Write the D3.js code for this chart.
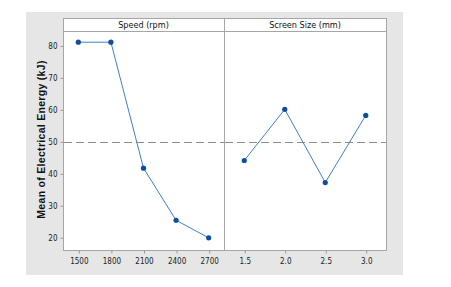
<!DOCTYPE html>
<html><head><meta charset="utf-8">
<script src="https://cdn.jsdelivr.net/npm/d3@7"></script>
<style>body{margin:0;background:#fff}svg{display:block}</style>
</head><body>
<script>
const speedLevels = [1500, 1800, 2100, 2400, 2700];
const speedMeans = [81.0, 81.0, 41.6, 25.3, 19.8];
const screenLevels = [1.5, 2.0, 2.5, 3.0];
const screenMeans = [44.0, 60.0, 37.1, 58.1];
const panelTitles = ["Speed (rpm)", "Screen Size (mm)"];
const yTicks = [20, 30, 40, 50, 60, 70, 80];
const speedTickLabels = ["1500", "1800", "2100", "2400", "2700"];
const screenTickLabels = ["1.5", "2.0", "2.5", "3.0"];
const grandMean = 49.8;
const yTitle = "Mean of Electrical Energy (kJ)";

(function () {
const W = 451, H = 287;
const svg = d3.select("body").append("svg").attr("width", W).attr("height", H);

svg.append("rect").attr("x", 26).attr("y", 12).attr("width", 377).attr("height", 263).attr("fill", "#e6e6e6");

const pTop = 18, stripBot = 31, bot = 250;
const panels = [
  {x0: 63, x1: 224, levels: speedLevels, means: speedMeans, labels: speedTickLabels, title: panelTitles[0]},
  {x0: 224, x1: 386, levels: screenLevels, means: screenMeans, labels: screenTickLabels, title: panelTitles[1]}
];

const y = d3.scaleLinear().domain([16.0, 84.5]).range([bot, stripBot]);
const font = "'Liberation Sans', Arial, sans-serif";
const tickFont = "'DejaVu Sans Condensed', 'Liberation Sans Narrow', sans-serif";

panels.forEach((p, i) => {
  const x = d3.scalePoint().domain(p.levels).range([p.x0, p.x1]).padding(i === 0 ? 0.47 : 0.5);
  const g = svg.append("g");
  g.append("rect").attr("x", p.x0).attr("y", pTop).attr("width", p.x1 - p.x0).attr("height", bot - pTop)
    .attr("fill", "#fff");
  g.append("rect").attr("x", p.x0 + 0.5).attr("y", pTop + 0.5).attr("width", p.x1 - p.x0).attr("height", stripBot - pTop)
    .attr("fill", "#fff").attr("stroke", "#a6a6a6").attr("stroke-width", 1);
  g.append("text").attr("x", (p.x0 + p.x1) / 2).attr("y", (pTop + stripBot) / 2 + 3.5)
    .attr("text-anchor", "middle").attr("font-family", tickFont).attr("font-size", 9).attr("fill", "#111")
    .text(p.title);
  g.append("rect").attr("x", p.x0 + 0.5).attr("y", stripBot + 0.5).attr("width", p.x1 - p.x0).attr("height", bot - stripBot)
    .attr("fill", "none").attr("stroke", "#a6a6a6").attr("stroke-width", 1);
  const ym = Math.round(y(grandMean)) + 0.5;
  g.append("line").attr("x1", p.x0 + 1).attr("x2", p.x1).attr("y1", ym).attr("y2", ym)
    .attr("stroke", "#8c8c8c").attr("stroke-width", 1).attr("stroke-dasharray", "8,4");
  const ax = d3.axisBottom(x).tickSize(3).tickFormat((d, k) => p.labels[k]);
  const axg = svg.append("g").attr("transform", `translate(0.5,${bot + 0.5})`).call(ax);
  axg.select(".domain").remove();
  axg.selectAll(".tick line").attr("stroke", "#999");
  axg.selectAll(".tick text").attr("font-family", tickFont).attr("font-size", 8).attr("fill", "#222").attr("dy", "0.95em");
  const pts = p.levels.map((l, k) => [x(l), y(p.means[k])]);
  g.append("path").attr("d", d3.line()(pts)).attr("fill", "none").attr("stroke", "#3f7fca").attr("stroke-width", 1);
  g.selectAll("circle.pt").data(pts).enter().append("circle").attr("class", "pt")
    .attr("cx", d => d[0]).attr("cy", d => d[1]).attr("r", 2.6).attr("fill", "#0b4f9e");
});

const yax = d3.axisLeft(y).tickValues(yTicks).tickSize(3);
const yg = svg.append("g").attr("transform", "translate(63.5,0.5)").call(yax);
yg.select(".domain").remove();
yg.selectAll(".tick line").attr("stroke", "#999");
yg.selectAll(".tick text").attr("font-family", tickFont).attr("font-size", 8).attr("fill", "#222");

svg.append("text").attr("transform", `translate(45,${(stripBot + bot) / 2 - 1}) rotate(-90)`)
  .attr("text-anchor", "middle").attr("font-family", font).attr("font-weight", "bold").attr("font-size", 10.5)
  .attr("letter-spacing", 0.3)
  .attr("fill", "#111").text(yTitle);
})();
</script>
</body></html>
